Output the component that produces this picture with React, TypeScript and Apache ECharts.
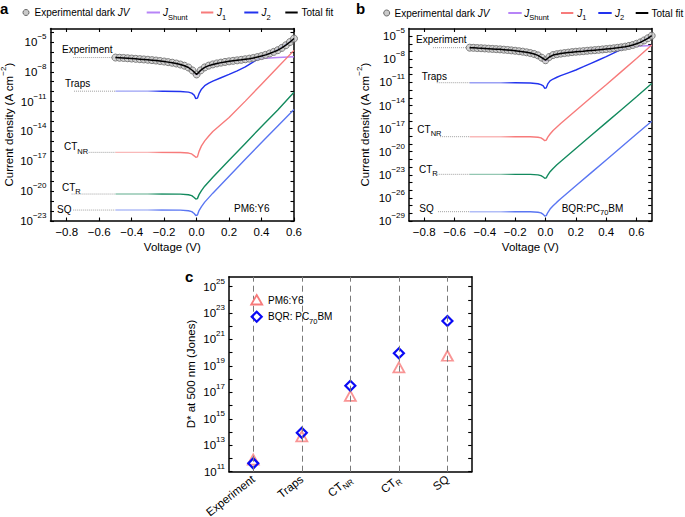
import React, { useEffect, useRef } from 'react';
import * as echarts from 'echarts';

const FONT = 'Liberation Sans, Arial, Helvetica, sans-serif';

// ---------- Panel a : PM6:Y6 (log10 of |J| in A cm^-2) ----------
const expVA = [-0.5, -0.475, -0.45, -0.425, -0.4, -0.375, -0.35, -0.325, -0.3, -0.275, -0.25, -0.225, -0.2, -0.175, -0.15, -0.125, -0.1, -0.075, -0.05, -0.025, 0, 0.025, 0.05, 0.075, 0.1, 0.125, 0.15, 0.175, 0.2, 0.225, 0.25, 0.275, 0.3, 0.325, 0.35, 0.375, 0.4, 0.425, 0.45, 0.475, 0.5, 0.525, 0.55, 0.575, 0.6];
const expJA = [-6.57, -6.59, -6.61, -6.64, -6.67, -6.7, -6.73, -6.76, -6.79, -6.83, -6.87, -6.92, -6.97, -7.03, -7.09, -7.17, -7.27, -7.39, -7.57, -7.87, -8.27, -7.86, -7.56, -7.38, -7.26, -7.16, -7.08, -7.01, -6.95, -6.9, -6.85, -6.8, -6.74, -6.68, -6.61, -6.52, -6.42, -6.3, -6.16, -6.0, -5.83, -5.6, -5.33, -5.01, -4.66];
const shuntVA = [-0.5, -0.4, -0.3, -0.2, -0.1, -0.05, -0.025, -0.01, 0.01, 0.025, 0.05, 0.1, 0.2, 0.3, 0.4, 0.5, 0.6];
const shuntJA = [-6.57, -6.67, -6.79, -6.97, -7.27, -7.57, -7.87, -8.27, -8.27, -7.87, -7.57, -7.27, -6.97, -6.79, -6.67, -6.57, -6.49];
const j2VA = [-0.5, -0.3, -0.2, -0.1, -0.05, -0.03, -0.015, -0.005, 0.005, 0.015, 0.03, 0.05, 0.075, 0.1, 0.15, 0.2, 0.25, 0.3, 0.35, 0.4, 0.5, 0.6];
const j2JA = [-9.95, -9.95, -9.96, -9.98, -10.05, -10.15, -10.35, -10.7, -10.65, -10.2, -9.75, -9.4, -9.15, -8.95, -8.6, -8.27, -7.9, -7.51, -7.0, -6.55, -5.75, -4.72];
const diodeVA = [-0.5, -0.3, -0.1, -0.05, -0.03, -0.015, -0.005, 0.005, 0.015, 0.03, 0.05, 0.075, 0.1, 0.15, 0.2, 0.3, 0.4, 0.5, 0.6];
const ctnrJA = [-16.1, -16.1, -16.11, -16.17, -16.26, -16.45, -16.6, -16.55, -16.0, -15.45, -14.95, -14.45, -14.0, -13.3, -12.6, -10.95, -9.25, -7.55, -5.85];
const ctrJA = [-20.29, -20.29, -20.3, -20.36, -20.45, -20.64, -20.8, -20.75, -20.35, -19.95, -19.5, -19.05, -18.6, -17.75, -16.9, -15.2, -13.5, -11.85, -10.05];
const sqJA = [-21.9, -21.9, -21.91, -21.97, -22.06, -22.25, -22.45, -22.4, -21.95, -21.55, -21.1, -20.65, -20.2, -19.35, -18.5, -16.8, -15.1, -13.45, -11.8];
const guideStartA = [-0.76, -0.755, -0.665, -0.77, -0.76];

// ---------- Panel b : BQR:PC70BM ----------
const expVB = [-0.5, -0.475, -0.45, -0.425, -0.4, -0.375, -0.35, -0.325, -0.3, -0.275, -0.25, -0.225, -0.2, -0.175, -0.15, -0.125, -0.1, -0.075, -0.05, -0.025, 0, 0.025, 0.05, 0.075, 0.1, 0.125, 0.15, 0.175, 0.2, 0.225, 0.25, 0.275, 0.3, 0.325, 0.35, 0.375, 0.4, 0.425, 0.45, 0.475, 0.5, 0.525, 0.55, 0.575, 0.6, 0.625, 0.65, 0.675, 0.7];
const expJB = [-6.49, -6.51, -6.54, -6.56, -6.59, -6.62, -6.65, -6.68, -6.71, -6.75, -6.79, -6.84, -6.89, -6.95, -7.01, -7.09, -7.19, -7.31, -7.49, -7.79, -8.12, -7.7, -7.45, -7.34, -7.26, -7.19, -7.13, -7.07, -7.02, -6.98, -6.94, -6.89, -6.85, -6.81, -6.77, -6.72, -6.67, -6.62, -6.57, -6.51, -6.44, -6.36, -6.26, -6.14, -5.98, -5.8, -5.55, -5.27, -4.94];
const shuntVB = [-0.5, -0.4, -0.3, -0.2, -0.1, -0.05, -0.025, -0.01, 0.01, 0.025, 0.05, 0.1, 0.2, 0.3, 0.4, 0.5, 0.6, 0.7];
const shuntJB = [-6.49, -6.59, -6.71, -6.89, -7.19, -7.49, -7.79, -8.19, -8.19, -7.79, -7.49, -7.19, -6.89, -6.71, -6.59, -6.45, -6.3, -6.22];
const j2VB = [-0.5, -0.3, -0.2, -0.1, -0.05, -0.03, -0.015, -0.005, 0.005, 0.015, 0.03, 0.05, 0.075, 0.1, 0.15, 0.2, 0.25, 0.3, 0.35, 0.4, 0.5, 0.6, 0.7];
const j2JB = [-11.04, -11.04, -11.05, -11.08, -11.17, -11.28, -11.45, -11.77, -11.7, -11.2, -10.8, -10.56, -10.33, -10.13, -9.76, -9.39, -8.96, -8.52, -8.09, -7.66, -6.72, -5.95, -5.0];
const diodeVB = [-0.5, -0.3, -0.1, -0.05, -0.03, -0.015, -0.005, 0.005, 0.015, 0.03, 0.05, 0.075, 0.1, 0.15, 0.2, 0.3, 0.4, 0.5, 0.6, 0.7];
const ctnrJB = [-18.05, -18.05, -18.06, -18.12, -18.21, -18.4, -18.57, -18.5, -18.1, -17.7, -17.25, -16.8, -16.35, -15.5, -14.65, -12.95, -11.3, -9.6, -7.9, -6.15];
const ctrJB = [-22.94, -22.94, -22.95, -23.01, -23.1, -23.29, -23.45, -23.4, -23.03, -22.6, -22.17, -21.7, -21.27, -20.42, -19.58, -17.9, -16.22, -14.54, -12.86, -11.15];
const sqJB = [-27.79, -27.79, -27.8, -27.86, -27.95, -28.14, -28.35, -28.3, -27.9, -27.45, -27.02, -26.55, -26.12, -25.27, -24.43, -22.75, -21.07, -19.39, -17.71, -16.05];
const guideStartB = [-0.742, -0.717, -0.695, -0.717, -0.709];

// ---------- Panel c : D* at 500 nm (log10 Jones) ----------
const categories = ['Experiment', 'Traps', 'CT_NR', 'CT_R', 'SQ'];
const pm6D = [11.92, 13.67, 16.73, 18.89, 19.77];
const bqrD = [11.63, 13.94, 17.5, 19.96, 22.4];

// ---------- ticks ----------
const xTicks = [-0.8, -0.6, -0.4, -0.2, 0, 0.2, 0.4, 0.6];
const yLabelsA = [-23, -20, -17, -14, -11, -8, -5];
const yTicksA = [-23, -22, -21, -20, -19, -18, -17, -16, -15, -14, -13, -12, -11, -10, -9, -8, -7, -6, -5, -4];
const yLabelsB = [-29, -26, -23, -20, -17, -14, -11, -8, -5];
const yTicksB = [-29, -28, -27, -26, -25, -24, -23, -22, -21, -20, -19, -18, -17, -16, -15, -14, -13, -12, -11, -10, -9, -8, -7, -6, -5];
const yLabelsC = [11, 13, 15, 17, 19, 21, 23, 25];
const yTicksC = [11, 12, 13, 14, 15, 16, 17, 18, 19, 20, 21, 22, 23, 24, 25];

const C = {
  shunt: '#b784f7',
  j1: '#f77b7b',
  j2: '#2233ee',
  ctr: '#138a5e',
  sq: '#5a76f2',
  diamond: '#0a0af5',
};
const LIGHT = {
  j1: '#f9b9b9',
  j2: '#9aa0f4',
  ctr: '#93c7b2',
  sq: '#b1bdf7',
};

const zip = (v: number[], j: number[]) => v.map((x, i) => [x, j[i]]);

const fade = (color: string, light: string, f: number) => ({
  type: 'linear', x: 0, y: 0, x2: 1, y2: 0,
  colorStops: [
    { offset: 0, color: light },
    { offset: f, color: light },
    { offset: f + 0.08, color },
    { offset: 1, color },
  ],
});

const axLine = { show: true, onZero: false, lineStyle: { color: '#000', width: 1.5 } };
const tickStyle = { color: '#000', width: 1.1 };
const supRich = {
  b: { fontSize: 11.5, lineHeight: 19, fontFamily: FONT, color: '#000' },
  s: { fontSize: 8, lineHeight: 9, verticalAlign: 'top', fontFamily: FONT, color: '#000' },
};

const fmtV = (v: number) => {
  const r = Math.round(v * 10) / 10;
  if (r === 0) return '0.0';
  return r.toFixed(1).replace('-', '\u2212');
};
const fmtExp = (v: number) => `{b|10}{s|${v < 0 ? '\u2212' + Math.abs(v) : v}}`;

function xAxesFor(grid: number, min: number, max: number) {
  return [
    {
      type: 'value', gridIndex: grid, min, max, position: 'bottom',
      axisLine: axLine,
      axisTick: { show: true, inside: true, length: 3.5, lineStyle: tickStyle, customValues: xTicks },
      axisLabel: { show: true, customValues: xTicks, formatter: fmtV, margin: 5, fontSize: 11.5, fontFamily: FONT, color: '#000' },
      splitLine: { show: false },
    },
    {
      type: 'value', gridIndex: grid, min, max, position: 'top',
      axisLine: axLine,
      axisTick: { show: true, inside: true, length: 3.5, lineStyle: tickStyle, customValues: xTicks },
      axisLabel: { show: false },
      splitLine: { show: false },
    },
  ];
}

function yAxesFor(grid: number, min: number, max: number, labels: number[], ticks: number[], fmt: (v: number) => string) {
  return [
    {
      type: 'value', gridIndex: grid, min, max, position: 'left',
      axisLine: axLine,
      axisTick: { show: true, inside: true, length: 3.5, lineStyle: tickStyle, customValues: ticks },
      axisLabel: { show: true, customValues: labels, formatter: fmt, margin: 4, rich: supRich, fontFamily: FONT, color: '#000' },
      splitLine: { show: false },
    },
    {
      type: 'value', gridIndex: grid, min, max, position: 'right',
      axisLine: axLine,
      axisTick: { show: true, inside: true, length: 3.5, lineStyle: tickStyle, customValues: ticks },
      axisLabel: { show: false },
      splitLine: { show: false },
    },
  ];
}

function lineS(xi: number, data: number[][], color: any, width = 1.4, z = 2, type: any = 'solid') {
  return {
    type: 'line', xAxisIndex: xi, yAxisIndex: xi, data, symbol: 'none', showSymbol: false,
    silent: true, z, lineStyle: { color, width, type }, animation: false,
  };
}

function panelSeries(
  xi: number,
  expV: number[], expJ: number[], shV: number[], shJ: number[],
  j2V: number[], j2J: number[], dV: number[], nr: number[], r: number[], sq: number[],
  guide: number[], f: number,
) {
  const levels = [expJ[0], j2J[0], nr[0], r[0], sq[0]];
  const guides = guide.map((g, i) => lineS(xi, [[g, levels[i]], [-0.5, levels[i]]], '#a0a0a0', 1, 1, 'dotted'));
  return [
    ...guides,
    lineS(xi, zip(shV, shJ), C.shunt, 1.5, 2),
    lineS(xi, zip(dV, sq), fade(C.sq, LIGHT.sq, f), 1.4, 3),
    lineS(xi, zip(dV, r), fade(C.ctr, LIGHT.ctr, f), 1.4, 3),
    lineS(xi, zip(dV, nr), fade(C.j1, LIGHT.j1, f), 1.4, 3),
    lineS(xi, zip(j2V, j2J), fade(C.j2, LIGHT.j2, f), 1.4, 3),
    {
      type: 'scatter', xAxisIndex: xi, yAxisIndex: xi, data: zip(expV, expJ), symbol: 'circle', symbolSize: 7,
      itemStyle: { color: '#cacaca', borderColor: '#666', borderWidth: 1 }, silent: true, z: 4, animation: false,
    },
    lineS(xi, zip(expV, expJ), '#000', 1.5, 5),
  ];
}

const RICH10 = {
  n: { fontSize: 10, lineHeight: 17, fontFamily: FONT, fill: '#000' },
  i: { fontSize: 10, lineHeight: 17, fontFamily: FONT, fontStyle: 'italic', fill: '#000' },
  s: { fontSize: 7.5, lineHeight: 8, verticalAlign: 'bottom', fontFamily: FONT, fill: '#000' },
  p: { fontSize: 8, lineHeight: 9, verticalAlign: 'top', fontFamily: FONT, fill: '#000' },
  t: { fontSize: 11.5, lineHeight: 19, fontFamily: FONT, fill: '#000' },
};

function txt(x: number, y: number, text: string, extra: any = {}) {
  return {
    type: 'text', x, y, silent: true, z: 10,
    style: { text, fill: '#000', fontFamily: FONT, fontSize: 10, align: 'left', verticalAlign: 'middle', rich: RICH10, ...extra },
  };
}
function lg(x1: number, x2: number, y: number, color: string) {
  return { type: 'line', silent: true, z: 10, shape: { x1, y1: y, x2, y2: y }, style: { stroke: color, lineWidth: 2 } };
}
function dot(cx: number, cy: number) {
  return { type: 'circle', silent: true, z: 10, shape: { cx, cy, r: 3 }, style: { fill: '#cacaca', stroke: '#666', lineWidth: 1 } };
}

const graphics = [
  // panel letters
  txt(0, 8, 'a', { fontSize: 15, fontWeight: 'bold', rich: undefined }),
  txt(356, 8, 'b', { fontSize: 15, fontWeight: 'bold', rich: undefined }),
  txt(185, 276.5, 'c', { fontSize: 15, fontWeight: 'bold', rich: undefined }),
  // legend a
  dot(26, 12.5),
  txt(34.5, 12.5, '{n|Experimental dark }{i|JV}'),
  lg(146.7, 160, 12.5, C.shunt), txt(163, 12.5, '{i|J}{s|Shunt}'),
  lg(201, 213.3, 12.5, C.j1), txt(217, 12.5, '{i|J}{s|1}'),
  lg(244.3, 258.3, 12.5, C.j2), txt(261.5, 12.5, '{i|J}{s|2}'),
  lg(285.3, 297.7, 12.5, '#000'), txt(301.5, 12.5, '{n|Total fit}'),
  // legend b
  dot(386.7, 13),
  txt(394.5, 13, '{n|Experimental dark }{i|JV}'),
  lg(508.3, 521.7, 13, C.shunt), txt(524.3, 13, '{i|J}{s|Shunt}'),
  lg(561, 573.3, 13, C.j1), txt(577.3, 13, '{i|J}{s|1}'),
  lg(598.3, 611.7, 13, C.j2), txt(615, 13, '{i|J}{s|2}'),
  lg(635.7, 648.3, 13, '#000'), txt(651.5, 13, '{n|Total fit}'),
  // annotations a
  txt(62, 49, '{n|Experiment}'),
  txt(65, 83.5, '{n|Traps}'),
  txt(64, 146.5, '{n|CT}{s|NR}'),
  txt(62, 187, '{n|CT}{s|R}'),
  txt(57, 209.5, '{n|SQ}'),
  txt(234, 208.5, '{n|PM6:Y6}'),
  // annotations b
  txt(416, 39.5, '{n|Experiment}'),
  txt(421.7, 76, '{n|Traps}'),
  txt(417.3, 129, '{n|CT}{s|NR}'),
  txt(419, 169, '{n|CT}{s|R}'),
  txt(419.3, 208.5, '{n|SQ}'),
  txt(561.7, 208, '{n|BQR:PC}{s|70}{n|BM}'),
  // axis titles
  txt(172.3, 246.5, '{t|Voltage (V)}', { align: 'center' }),
  txt(530.3, 246.5, '{t|Voltage (V)}', { align: 'center' }),
  { ...txt(8.5, 124.8, '{t|Current density (A cm}{p|\u22122}{t|)}', { align: 'center' }), rotation: Math.PI / 2 },
  { ...txt(365, 124.8, '{t|Current density (A cm}{p|\u22122}{t|)}', { align: 'center' }), rotation: Math.PI / 2 },
  { ...txt(190.5, 374, '{t|D* at 500 nm (Jones)}', { align: 'center' }), rotation: Math.PI / 2 },
  // legend c
  {
    type: 'polygon', silent: true, z: 10,
    shape: { points: [[256.7, 295], [262.2, 304.5], [251.2, 304.5]] },
    style: { fill: 'none', stroke: C.j1, lineWidth: 1.8 },
  },
  txt(268, 300, '{n|PM6:Y6}'),
  {
    type: 'polygon', silent: true, z: 10,
    shape: { points: [[256.7, 311.7], [261.7, 316.7], [256.7, 321.7], [251.7, 316.7]] },
    style: { fill: 'none', stroke: C.diamond, lineWidth: 2.2 },
  },
  txt(268, 316.7, '{n|BQR: PC}{s|70}{n|BM}'),
];

const catRich = {
  n: { fontSize: 11.5, lineHeight: 16, fontFamily: FONT, color: '#000' },
  s: { fontSize: 8, lineHeight: 8, verticalAlign: 'bottom', fontFamily: FONT, color: '#000' },
};
const fmtCat = (v: string) => (v === 'CT_NR' ? '{n|CT}{s|NR}' : v === 'CT_R' ? '{n|CT}{s|R}' : `{n|${v}}`);

const option: any = {
  animation: false,
  backgroundColor: '#fff',
  grid: [
    { left: 50.5, top: 28.5, width: 243.5, height: 192.5, containLabel: false, outerBoundsMode: 'none' },
    { left: 409, top: 28.5, width: 242.7, height: 192.5, containLabel: false, outerBoundsMode: 'none' },
    { left: 229, top: 276.7, width: 242.7, height: 195, containLabel: false, outerBoundsMode: 'none' },
  ],
  xAxis: [
    ...xAxesFor(0, -0.9, 0.6),
    ...xAxesFor(1, -0.9, 0.7),
    {
      type: 'category', gridIndex: 2, data: categories, position: 'bottom', boundaryGap: true,
      axisLine: axLine, axisTick: { show: false },
      axisLabel: { show: true, rotate: 38, margin: 6, formatter: fmtCat, rich: catRich, interval: 0 },
      splitLine: { show: false },
    },
    {
      type: 'category', gridIndex: 2, data: categories, position: 'top', boundaryGap: true,
      axisLine: axLine, axisTick: { show: false }, axisLabel: { show: false }, splitLine: { show: false },
    },
  ],
  yAxis: [
    ...yAxesFor(0, -23, -3.65, yLabelsA, yTicksA, fmtExp),
    ...yAxesFor(1, -29, -4, yLabelsB, yTicksB, fmtExp),
    ...yAxesFor(2, 11, 25.75, yLabelsC, yTicksC, fmtExp),
  ],
  series: [
    ...panelSeries(0, expVA, expJA, shuntVA, shuntJA, j2VA, j2JA, diodeVA, ctnrJA, ctrJA, sqJA, guideStartA, 0.18),
    ...panelSeries(2, expVB, expJB, shuntVB, shuntJB, j2VB, j2JB, diodeVB, ctnrJB, ctrJB, sqJB, guideStartB, 0.17),
    {
      type: 'scatter', xAxisIndex: 4, yAxisIndex: 4, data: [], silent: true, z: 1, animation: false,
      markLine: {
        silent: true, symbol: ['none', 'none'], label: { show: false }, animation: false,
        lineStyle: { type: [6, 4], color: '#7a7a7a', width: 1 },
        data: categories.map((c) => ({ xAxis: c })),
      },
    },
    {
      type: 'scatter', xAxisIndex: 4, yAxisIndex: 4, data: pm6D, symbol: 'triangle', symbolSize: [11, 10],
      itemStyle: { color: 'rgba(255,255,255,0)', borderColor: C.j1, borderWidth: 1.8 }, silent: true, z: 3, animation: false,
    },
    {
      type: 'scatter', xAxisIndex: 4, yAxisIndex: 4, data: bqrD, symbol: 'diamond', symbolSize: [10, 10],
      itemStyle: { color: 'rgba(255,255,255,0)', borderColor: C.diamond, borderWidth: 2.2, opacity: 1 }, silent: true, z: 4, animation: false,
    },
  ],
  graphic: graphics,
};

export default function App() {
  const ref = useRef<HTMLDivElement>(null);
  useEffect(() => {
    if (!ref.current) return;
    const chart = echarts.init(ref.current, null, { renderer: 'svg' });
    chart.setOption(option);
    return () => chart.dispose();
  }, []);
  return <div ref={ref} style={{ position: 'fixed', left: 0, top: 0, width: 685, height: 517, background: '#fff' }} />;
}
